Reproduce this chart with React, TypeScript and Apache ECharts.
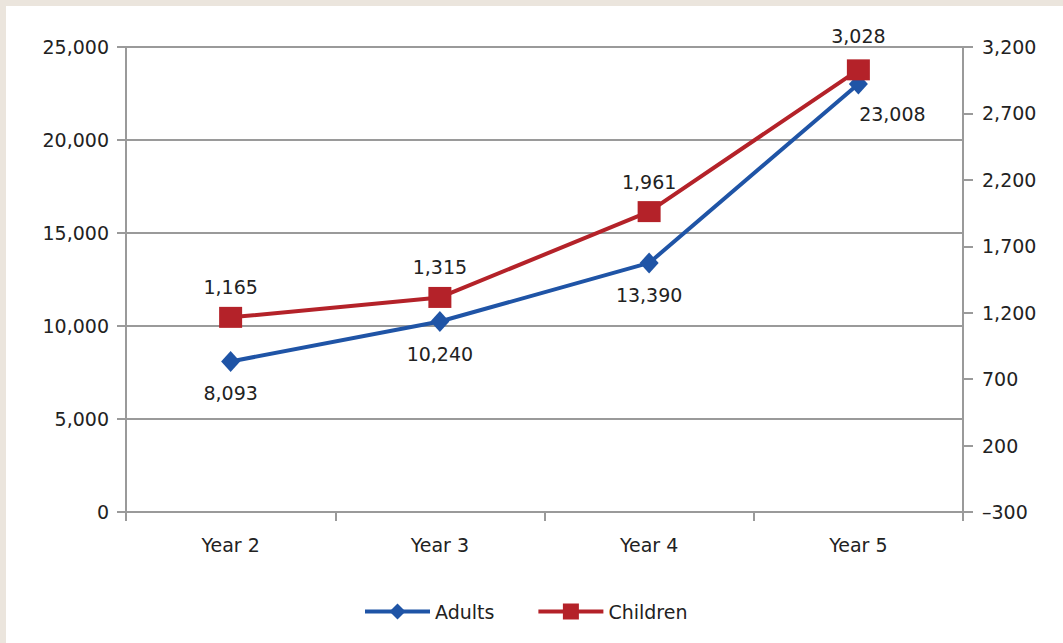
import React, { useEffect, useRef } from "react";
import * as echarts from "echarts";

// Enrolment by programme year
const years = ["Year 2", "Year 3", "Year 4", "Year 5"];
const adults = [8093, 10240, 13390, 23008];
const children = [1165, 1315, 1961, 3028];

const FONT = "DejaVu Sans";
const TEXT = "#222";
const AXIS_GRAY = "#9a9a9a";
const BLUE = "#1f54a6";
const RED = "#b42229";
const FS = 19;

const fmt = (v: number) => {
  const s = Math.abs(v).toLocaleString("en-US");
  return v < 0 ? "\u2013" + s : s;
};

export default function App() {
  const ref = useRef<HTMLDivElement>(null);

  useEffect(() => {
    if (!ref.current) return;
    const chart = echarts.init(ref.current, null, { renderer: "svg" });
    chart.setOption({
      animation: false,
      backgroundColor: "#ffffff",
      textStyle: { fontFamily: FONT },
      grid: { left: 120, right: 100, top: 41, bottom: 131 },
      legend: {
        left: 352,
        top: 591,
        itemWidth: 65,
        itemHeight: 20,
        itemGap: 42,
        textStyle: { fontFamily: FONT, fontSize: FS, color: TEXT },
        data: [
          { name: "Adults", lineStyle: { width: 4 } },
          { name: "Children", lineStyle: { width: 4 } },
        ],
      },
      xAxis: {
        type: "category",
        data: years,
        boundaryGap: true,
        axisLine: { lineStyle: { color: AXIS_GRAY, width: 2 } },
        axisTick: { show: true, length: 9, lineStyle: { color: AXIS_GRAY, width: 2 } },
        axisLabel: { color: TEXT, fontSize: FS, fontFamily: FONT, margin: 23 },
        splitLine: { show: false },
      },
      yAxis: [
        {
          type: "value",
          min: 0,
          max: 25000,
          interval: 5000,
          position: "left",
          axisLine: { show: true, lineStyle: { color: AXIS_GRAY, width: 2 } },
          axisTick: { show: true, length: 9, lineStyle: { color: AXIS_GRAY, width: 2 } },
          axisLabel: { color: TEXT, fontSize: FS, fontFamily: FONT, margin: 17, formatter: fmt },
          splitLine: { show: true, lineStyle: { color: AXIS_GRAY, width: 2 } },
        },
        {
          type: "value",
          min: -300,
          max: 3200,
          interval: 500,
          position: "right",
          axisLine: { show: true, lineStyle: { color: AXIS_GRAY, width: 2 } },
          axisTick: { show: true, length: 10, lineStyle: { color: AXIS_GRAY, width: 2 } },
          axisLabel: { color: TEXT, fontSize: FS, fontFamily: FONT, margin: 19, formatter: fmt },
          splitLine: { show: false },
        },
      ],
      series: [
        {
          name: "Adults",
          type: "line",
          yAxisIndex: 0,
          data: adults.map((v, i) =>
            i === adults.length - 1
              ? { value: v, label: { offset: [34, -2] } }
              : v
          ),
          symbol: "diamond",
          symbolSize: [19, 21],
          lineStyle: { color: BLUE, width: 4 },
          itemStyle: { color: BLUE },
          label: {
            show: true,
            position: "bottom",
            distance: 12,
            color: TEXT,
            fontSize: FS,
            fontFamily: FONT,
            formatter: (p: any) => fmt(p.value),
          },
          z: 3,
        },
        {
          name: "Children",
          type: "line",
          yAxisIndex: 1,
          data: children.map((v, i) =>
            i === children.length - 1
              ? { value: v, label: { offset: [0, -4] } }
              : v
          ),
          symbol: "rect",
          symbolSize: [23, 21],
          lineStyle: { color: RED, width: 4 },
          itemStyle: { color: RED },
          label: {
            show: true,
            position: "top",
            distance: 10,
            color: TEXT,
            fontSize: FS,
            fontFamily: FONT,
            formatter: (p: any) => fmt(p.value),
          },
          z: 4,
        },
      ],
    });
    return () => chart.dispose();
  }, []);

  return (
    <div
      style={{
        position: "absolute",
        left: 0,
        top: 0,
        width: 1063,
        height: 643,
        background: "#ebe5dd",
      }}
    >
      <div
        ref={ref}
        style={{ position: "absolute", left: 6, top: 6, width: 1057, height: 637 }}
      />
    </div>
  );
}
